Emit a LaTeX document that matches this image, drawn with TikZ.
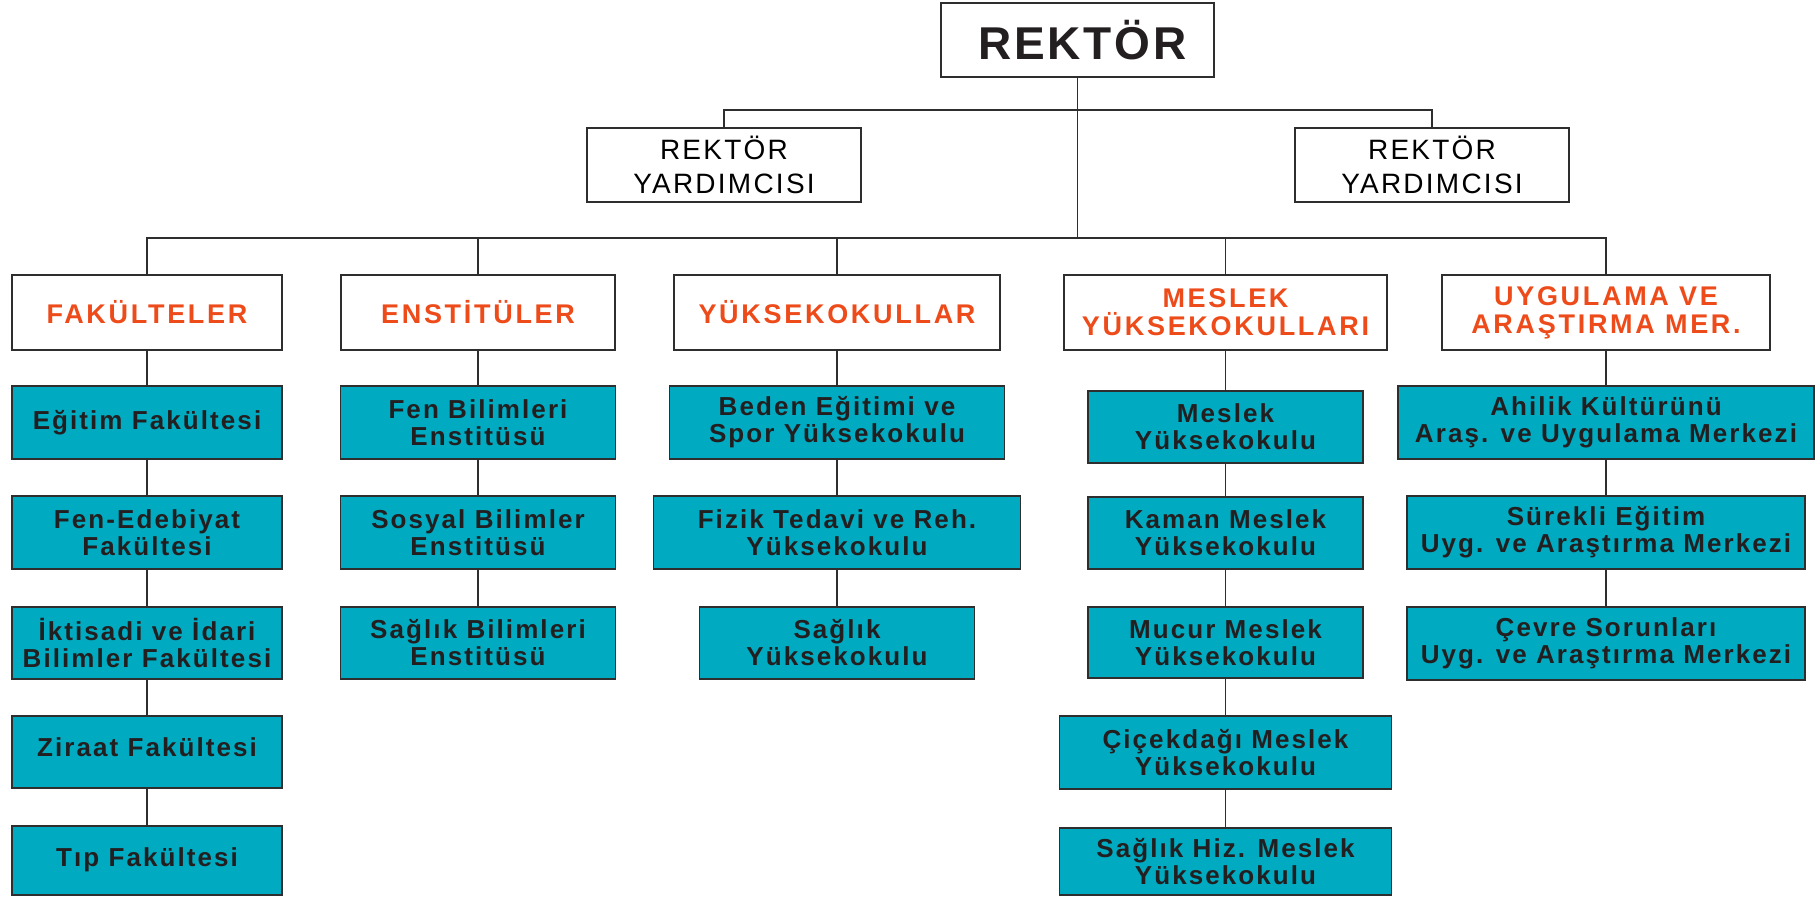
\documentclass[tikz,border=0pt]{standalone}
\usepackage{fontspec}
\setmainfont{Liberation Sans}
\newfontfamily\bxfont[LetterSpace=8]{Liberation Sans}
\newfontfamily\hdfont[LetterSpace=10]{Liberation Sans}
\newfontfamily\rkfont[LetterSpace=6]{Liberation Sans}
\usetikzlibrary{backgrounds}
\definecolor{tealc}{HTML}{00AAC0}
\definecolor{orangec}{HTML}{EE4B1A}
\definecolor{linec}{HTML}{2E2E2E}
\definecolor{textc}{HTML}{231F20}
\tikzset{
  wbox/.style={draw=linec, line width=1.8pt, fill=white, inner sep=0pt, align=center},
  tbox/.style={draw=linec, line width=1.8pt, fill=tealc, inner sep=0pt, align=center,
    text=textc, font=\bxfont\bfseries\fontsize{26}{27}\selectfont},
  hdr/.style={wbox, text=orangec, font=\hdfont\bfseries\fontsize{27}{28}\selectfont},
  ybox/.style={wbox, text=black, font=\bxfont\fontsize{28}{34}\selectfont},
  conn/.style={draw=linec, line width=1.7pt},
}
\begin{document}
\begin{tikzpicture}[x=1pt,y=-1pt]
\useasboundingbox (0,0) rectangle (1818,897);
% top
\node[wbox, minimum width=273, minimum height=74, font=\rkfont\bfseries\fontsize{46}{48}\selectfont, text=textc] (rek) at (1077.5,40) {\hspace*{10pt}REKTÖR};
\node[ybox, minimum width=274, minimum height=74] (yl) at (724,165) {REKTÖR\\YARDIMCISI};
\node[ybox, minimum width=274, minimum height=74] (yr) at (1432,165) {REKTÖR\\YARDIMCISI};
\coordinate (bus1) at (0,110);
\coordinate (bus) at (0,238);
% headers
\node[hdr, minimum width=270, minimum height=75] (fak) at (147,312.5) {FAKÜLTELER};
\node[hdr, minimum width=274, minimum height=75] (ens) at (478,312.5) {ENSTİTÜLER};
\node[hdr, minimum width=326, minimum height=75] (yuk) at (837,312.5) {YÜKSEKOKULLAR};
\node[hdr, minimum width=323, minimum height=75] (mes) at (1225.5,312.5) {MESLEK\\YÜKSEKOKULLARI};
\node[hdr, minimum width=328, minimum height=75] (uyg) at (1606,312.5) {UYGULAMA VE\\ARAŞTIRMA MER.};
% fakulteler
\node[tbox, minimum width=270, minimum height=73] (f1) at (147,422.5) {Eğitim Fakültesi};
\node[tbox, minimum width=270, minimum height=73] (f2) at (147,532.5) {Fen-Edebiyat\\Fakültesi};
\node[tbox, minimum width=270, minimum height=72] (f3) at (147,643) {İktisadi ve İdari\\Bilimler Fakültesi};
\node[tbox, minimum width=270, minimum height=72] (f4) at (147,752) {\raisebox{10pt}{Ziraat Fakültesi}};
\node[tbox, minimum width=270, minimum height=69] (f5) at (147,860.5) {\raisebox{6pt}{Tıp Fakültesi}};
% enstituler
\node[tbox, minimum width=275, minimum height=73] (e1) at (478,422.5) {Fen Bilimleri\\Enstitüsü};
\node[tbox, minimum width=275, minimum height=73] (e2) at (478,532.5) {Sosyal Bilimler\\Enstitüsü};
\node[tbox, minimum width=275, minimum height=72] (e3) at (478,643) {Sağlık Bilimleri\\Enstitüsü};
% yuksekokullar
\node[tbox, minimum width=335, minimum height=73] (y1) at (837,422.5) {Beden Eğitimi ve\\Spor Yüksekokulu};
\node[tbox, minimum width=367, minimum height=73] (y2) at (837,532.5) {Fizik Tedavi ve Reh.\\Yüksekokulu};
\node[tbox, minimum width=275, minimum height=72] (y3) at (837,643) {Sağlık\\Yüksekokulu};
% meslek yuksekokullari
\node[tbox, minimum width=275, minimum height=72] (m1) at (1225.5,427) {Meslek\\Yüksekokulu};
\node[tbox, minimum width=275, minimum height=72] (m2) at (1225.5,533) {Kaman Meslek\\Yüksekokulu};
\node[tbox, minimum width=275, minimum height=71] (m3) at (1225.5,642.5) {Mucur Meslek\\Yüksekokulu};
\node[tbox, minimum width=332, minimum height=73] (m4) at (1225.5,752.5) {Çiçekdağı Meslek\\Yüksekokulu};
\node[tbox, minimum width=332, minimum height=67] (m5) at (1225.5,861.5) {Sağlık Hiz. Meslek\\Yüksekokulu};
% uygulama
\node[tbox, minimum width=416, minimum height=73] (u1) at (1606,422.5) {Ahilik Kültürünü\\Araş. ve Uygulama Merkezi};
\node[tbox, minimum width=398, minimum height=73] (u2) at (1606,532.5) {Sürekli Eğitim\\Uyg. ve Araştırma Merkezi};
\node[tbox, minimum width=398, minimum height=73] (u3) at (1606,643.5) {Çevre Sorunları\\Uyg. ve Araştırma Merkezi};
% connectors
\begin{scope}[on background layer]
\fill[white] (0,0) rectangle (1818,897);
\draw[conn] (rek.south) -- (rek.south |- bus);
\draw[conn] (yl.north) |- (yr.north |- bus1) -- (yr.north);
\draw[conn] (fak.north) |- (uyg.north |- bus) -- (uyg.north);
\foreach \n in {ens,yuk,mes} \draw[conn] (\n.north) -- (\n.north |- bus);
\foreach \a/\b in {fak/f1,f1/f2,f2/f3,f3/f4,f4/f5,ens/e1,e1/e2,e2/e3,yuk/y1,y1/y2,y2/y3,mes/m1,m1/m2,m2/m3,m3/m4,m4/m5,uyg/u1,u1/u2,u2/u3}
  \draw[conn] (\a.south) -- (\a.south |- \b.north);
\end{scope}
\end{tikzpicture}
\end{document}
